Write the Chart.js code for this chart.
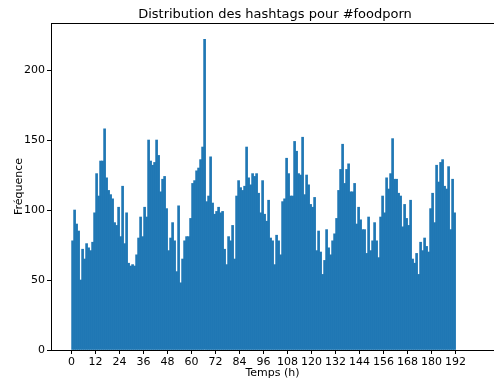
<!DOCTYPE html>
<html>
<head>
<meta charset="utf-8">
<title>Distribution des hashtags pour #foodporn</title>
<script src="https://cdn.jsdelivr.net/npm/chart.js"></script>
<style>
  html, body { margin: 0; padding: 0; background: #fff; }
</style>
</head>
<body>
<canvas id="hashtagChart" width="494" height="381"></canvas>
<script>
// hourly counts, one array per day (hours 0..191)
const day1 = [78, 100, 90, 85, 50, 72, 65, 76, 73, 71, 77, 98, 126, 110, 135, 135, 158, 123, 114, 111, 108, 91, 89, 102];
const day2 = [81, 117, 76, 98, 62, 60, 61, 60, 68, 80, 95, 81, 102, 95, 150, 135, 132, 134, 150, 139, 113, 122, 124, 101];
const day3 = [71, 80, 91, 78, 56, 103, 48, 65, 78, 81, 81, 94, 119, 121, 128, 130, 136, 145, 222, 106, 110, 138, 105, 97];
const day4 = [99, 102, 98, 99, 72, 61, 81, 78, 89, 65, 110, 121, 116, 114, 117, 145, 123, 118, 126, 124, 126, 112, 98, 121];
const day5 = [97, 92, 107, 80, 78, 61, 82, 78, 68, 106, 108, 137, 126, 110, 110, 149, 142, 126, 125, 152, 111, 125, 118, 104];
const day6 = [102, 109, 71, 85, 70, 54, 64, 86, 73, 68, 78, 83, 94, 114, 129, 147, 119, 129, 133, 113, 113, 119, 90, 102];
const day7 = [93, 86, 86, 69, 95, 71, 78, 91, 78, 66, 95, 110, 98, 123, 115, 126, 151, 122, 122, 112, 110, 88, 104, 94];
const day8 = [89, 107, 65, 62, 69, 54, 77, 71, 80, 74, 70, 101, 112, 91, 132, 120, 134, 136, 117, 115, 131, 86, 122, 98];

const hourTicks = [0, 12, 24, 36, 48, 60, 72, 84, 96, 108, 120, 132, 144, 156, 168, 180, 192];
const countTicks = [0, 50, 100, 150, 200];

const titleText = 'Distribution des hashtags pour #foodporn';
const xLabel = 'Temps (h)';
const yLabel = 'Fréquence';

const counts = [].concat(day1, day2, day3, day4, day5, day6, day7, day8);
// each bin covers [h, h+1)
const points = counts.map((v, h) => ({ x: h + 0.5, y: v }));

const FONT = '"DejaVu Sans", sans-serif';

// title + top spine (matplotlib style frame, the right side is cut off)
const frameAndTitle = {
    id: 'frameAndTitle',
    afterDraw(chart) {
        const { ctx, chartArea } = chart;
        ctx.save();
        ctx.strokeStyle = '#000';
        ctx.lineWidth = 1;
        ctx.beginPath();
        ctx.moveTo(chartArea.left, chartArea.top + 0.5);
        ctx.lineTo(chartArea.right, chartArea.top + 0.5);
        ctx.stroke();

        ctx.fillStyle = '#000';
        ctx.font = '13px ' + FONT;
        ctx.textAlign = 'center';
        ctx.textBaseline = 'middle';
        ctx.fillText(titleText, (chartArea.left + chartArea.right + 5) / 2, 15);
        ctx.restore();
    }
};

const ctx = document.getElementById('hashtagChart').getContext('2d');
new Chart(ctx, {
    type: 'bar',
    data: {
        datasets: [{
            data: points,
            backgroundColor: '#1f77b4',
            borderWidth: 0,
            barPercentage: 1,
            categoryPercentage: 1
        }]
    },
    options: {
        responsive: false,
        animation: false,
        devicePixelRatio: 1,
        layout: { padding: { top: 23, right: 0, left: 0, bottom: 0 } },
        plugins: {
            legend: { display: false },
            tooltip: { enabled: false },
            title: { display: false }
        },
        scales: {
            x: {
                type: 'linear',
                offset: false,
                min: -10.3,
                max: 211.2,
                afterBuildTicks: (scale) => { scale.ticks = hourTicks.map(v => ({ value: v })); },
                afterFit: (scale) => { scale.height = 31; },
                grid: { offset: false, drawOnChartArea: false, drawTicks: true, tickLength: 4, color: '#000' },
                border: { display: true, color: '#000', width: 1 },
                ticks: {
                    autoSkip: false,
                    maxRotation: 0,
                    padding: 2,
                    color: '#000',
                    font: { family: FONT, size: 11 }
                },
                title: {
                    display: true,
                    text: xLabel,
                    color: '#000',
                    font: { family: FONT, size: 11 },
                    padding: { top: 0, bottom: 1 }
                }
            },
            y: {
                min: 0,
                max: 233.6,
                afterBuildTicks: (scale) => { scale.ticks = countTicks.map(v => ({ value: v })); },
                afterFit: (scale) => { scale.width = 51; },
                grid: { drawOnChartArea: false, drawTicks: true, tickLength: 4, color: '#000' },
                border: { display: true, color: '#000', width: 1 },
                ticks: {
                    autoSkip: false,
                    padding: 2,
                    color: '#000',
                    font: { family: FONT, size: 11 }
                },
                title: {
                    display: true,
                    text: yLabel,
                    color: '#000',
                    font: { family: FONT, size: 11 },
                    padding: { top: 12.4, bottom: 0 }
                }
            }
        }
    },
    plugins: [frameAndTitle]
});
</script>
</body>
</html>
